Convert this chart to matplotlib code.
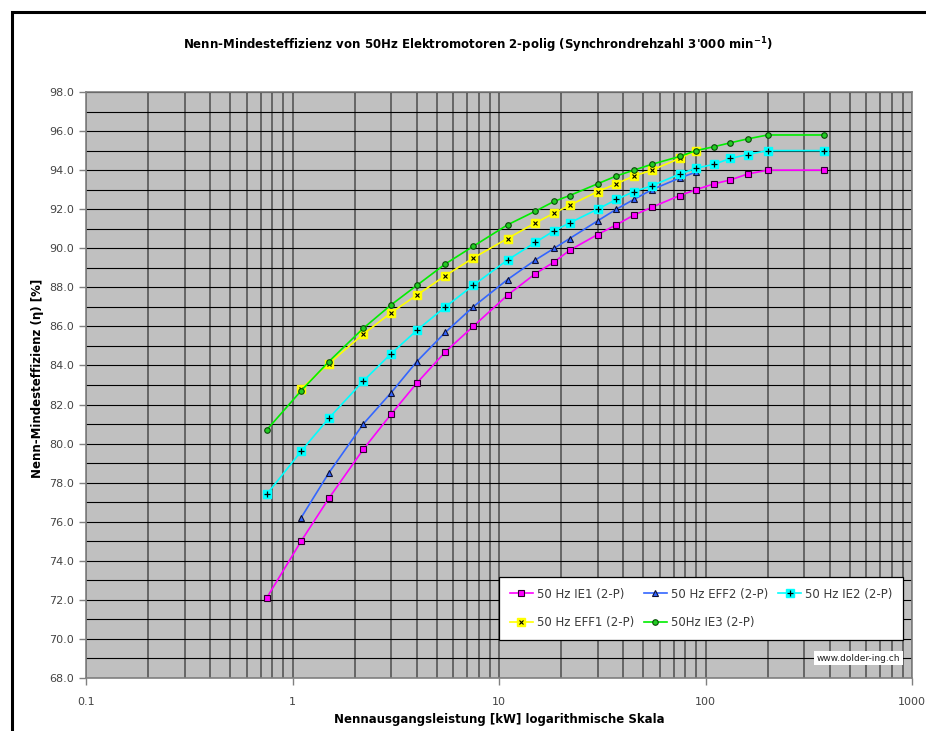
""" Nenn-Mindesteffizienz 50Hz Motoren 2-polig, log x-axis """
import matplotlib
matplotlib.use('Agg')
import matplotlib.pyplot as plt
import matplotlib.patches as mpatches
from matplotlib.ticker import MultipleLocator, FixedLocator, NullFormatter
import numpy as np

# rated power [kW]
kw_ie = [0.75, 1.1, 1.5, 2.2, 3, 4, 5.5, 7.5, 11, 15, 18.5, 22, 30, 37, 45, 55,
         75, 90, 110, 132, 160, 200, 375]
kw_eff = [1.1, 1.5, 2.2, 3, 4, 5.5, 7.5, 11, 15, 18.5, 22, 30, 37, 45, 55, 75, 90]

# efficiencies [%]
ie1 = [72.1, 75.0, 77.2, 79.7, 81.5, 83.1, 84.7, 86.0, 87.6, 88.7, 89.3, 89.9,
       90.7, 91.2, 91.7, 92.1, 92.7, 93.0, 93.3, 93.5, 93.8, 94.0, 94.0]
ie2 = [77.4, 79.6, 81.3, 83.2, 84.6, 85.8, 87.0, 88.1, 89.4, 90.3, 90.9, 91.3,
       92.0, 92.5, 92.9, 93.2, 93.8, 94.1, 94.3, 94.6, 94.8, 95.0, 95.0]
ie3 = [80.7, 82.7, 84.2, 85.9, 87.1, 88.1, 89.2, 90.1, 91.2, 91.9, 92.4, 92.7,
       93.3, 93.7, 94.0, 94.3, 94.7, 95.0, 95.2, 95.4, 95.6, 95.8, 95.8]
eff1 = [82.8, 84.1, 85.6, 86.7, 87.6, 88.6, 89.5, 90.5, 91.3, 91.8, 92.2, 92.9,
        93.3, 93.7, 94.0, 94.6, 95.0]
eff2 = [76.2, 78.5, 81.0, 82.6, 84.2, 85.7, 87.0, 88.4, 89.4, 90.0, 90.5, 91.4,
        92.0, 92.5, 93.0, 93.6, 93.9]

labels = ["50 Hz IE1 (2-P)", "50 Hz EFF2 (2-P)", "50 Hz IE2 (2-P)",
          "50 Hz EFF1 (2-P)", "50Hz IE3 (2-P)"]

x_ticks = [0.1, 1, 10, 100, 1000]
x_ticklabels = ["0.1", "1", "10", "100", "1000"]

plt.rcParams['font.family'] = ['DejaVu Sans']

W, H = 926, 731
fig = plt.figure(figsize=(W / 100, H / 100), dpi=100, facecolor='white')

# outer chart frame
frame = mpatches.Rectangle((12 / W, -0.1), 1.2, 1.1 - 12 / H, fill=False,
                           edgecolor='black', linewidth=2.2,
                           transform=fig.transFigure, clip_on=False)
fig.patches.append(frame)

ax = fig.add_axes([86 / W, 1 - 678 / H, 826 / W, 586 / H])
ax.set_facecolor('#c0c0c0')
ax.set_xscale('log')
ax.set_xlim(0.1, 1000)
ax.set_ylim(68, 98)

# grid
minor_x = [m * 10.0 ** e for e in range(-1, 3) for m in range(2, 10)]
ax.xaxis.set_major_locator(FixedLocator(x_ticks))
ax.xaxis.set_minor_locator(FixedLocator(minor_x))
ax.xaxis.set_minor_formatter(NullFormatter())
ax.set_xticklabels(x_ticklabels)
ax.yaxis.set_major_locator(MultipleLocator(2))
ax.yaxis.set_minor_locator(MultipleLocator(1))
ax.grid(which='both', axis='x', color='#5e5e5e', linewidth=1.3)
ax.grid(which='both', axis='y', color='black', linewidth=0.8)
ax.set_axisbelow(True)

ax.tick_params(axis='both', which='major', labelsize=8, labelcolor='#444444',
               color='#808080', length=5, width=1, direction='out')
ax.tick_params(axis='both', which='minor', length=0)
ax.tick_params(axis='x', pad=9)
ax.yaxis.set_major_formatter(matplotlib.ticker.FormatStrFormatter('%.1f'))
for s in ax.spines.values():
    s.set_color('#808080')
    s.set_linewidth(1.2)

# series
l_ie1, = ax.plot(kw_ie, ie1, color='#ff00ff', lw=1.2, marker='s', ms=4,
                 mfc='#ff00ff', mec='#2a002a', mew=0.8)
l_eff2, = ax.plot(kw_eff, eff2, color='#3366ff', lw=1.2, marker='^', ms=4,
                  mfc='#3366ff', mec='#101030', mew=0.8)
l_ie2, = ax.plot(kw_ie, ie2, color='#00ffff', lw=1.2, marker='s', ms=5.5,
                 mfc='#00ffff', mec='#00ffff')
o_ie2, = ax.plot(kw_ie, ie2, ls='none', marker='+', ms=4, mec='black', mew=0.9)
l_eff1, = ax.plot(kw_eff, eff1, color='#ffff00', lw=1.2, marker='s', ms=5.5,
                  mfc='#ffff00', mec='#ffff00')
o_eff1, = ax.plot(kw_eff, eff1, ls='none', marker='x', ms=3, mec='black', mew=0.8)
l_ie3, = ax.plot(kw_ie, ie3, color='#00ee00', lw=1.2, marker='o', ms=4,
                 mfc='#22cc22', mec='#0a4a0a', mew=0.8)

handles = [l_ie1, (l_eff1, o_eff1), l_eff2, l_ie3, (l_ie2, o_ie2)]
hlabels = [labels[0], labels[3], labels[1], labels[4], labels[2]]
leg = ax.legend(handles, hlabels, ncol=3, loc='upper left',
                bbox_to_anchor=(0.5, 0.07, 0.489, 0.1024), mode='expand',
                fontsize=8.5, labelcolor='#3a3a3a', frameon=True, fancybox=False,
                framealpha=1, edgecolor='black', borderaxespad=0,
                handlelength=2.0, handletextpad=0.3, labelspacing=1.3,
                borderpad=0.9, columnspacing=1.0)
leg.get_frame().set_linewidth(0.9)

ax.text(0.935, 0.034, "www.dolder-ing.ch", transform=ax.transAxes,
        ha='center', va='center', fontsize=6.5, color='#202020',
        bbox=dict(facecolor='white', edgecolor='none', pad=2))

# titles
fig.text(478 / W, 1 - 45 / H,
         "Nenn-Mindesteffizienz von 50Hz Elektromotoren 2-polig (Synchrondrehzahl 3'000 min$^{\\mathbf{-1}}$)",
         ha='center', va='center', fontsize=8.5, fontweight='bold')
fig.text(38 / W, 1 - 378 / H, "Nenn-Mindesteffizienz (η) [%]", rotation=90,
         ha='center', va='center', fontsize=8.5, fontweight='bold')
fig.text(499 / W, 1 - 719 / H, "Nennausgangsleistung [kW] logarithmische Skala",
         ha='center', va='center', fontsize=8.5, fontweight='bold')

fig.savefig('out.png', dpi=100, facecolor='white')
